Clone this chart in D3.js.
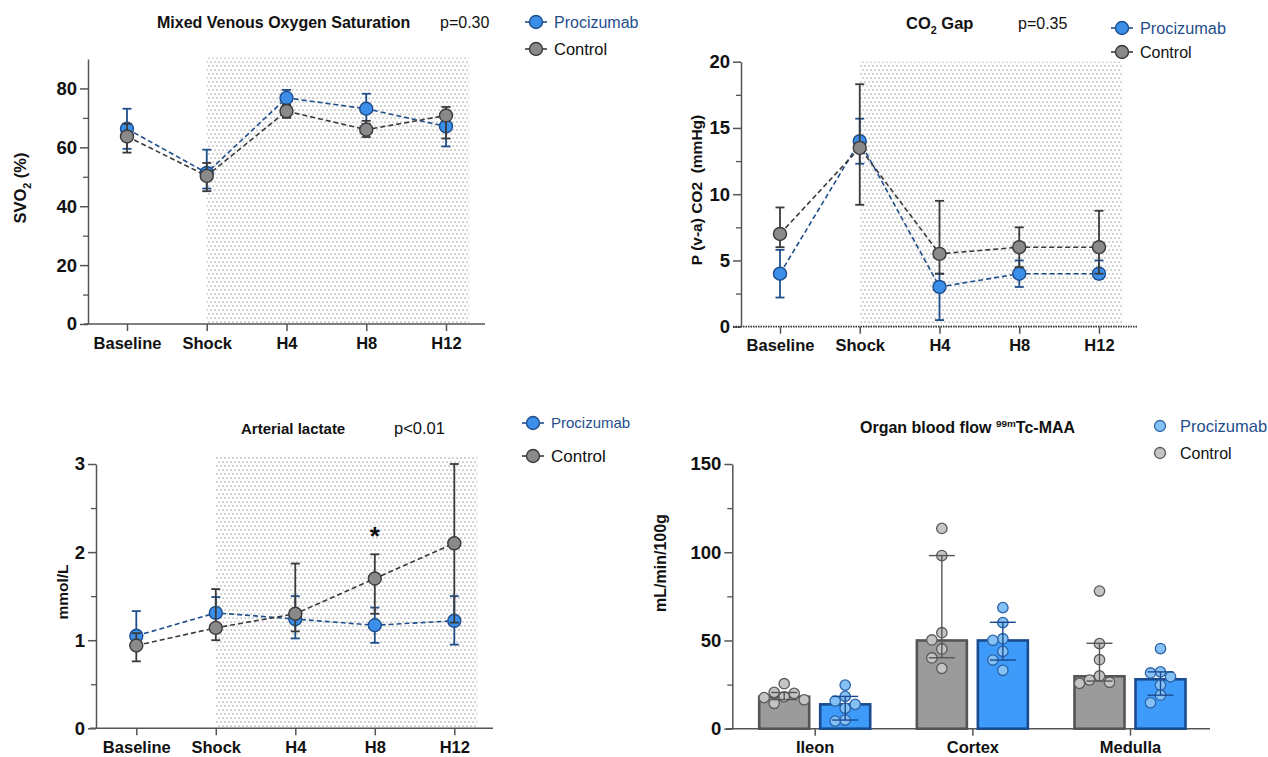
<!DOCTYPE html>
<html>
<head>
<meta charset="utf-8">
<script src="https://cdn.jsdelivr.net/npm/d3@7"></script>
<style>
  body { margin: 0; background: #fff; }
  text { font-family: "Liberation Sans", Arial, Helvetica, sans-serif; }
</style>
</head>
<body>
<script>
"use strict";

// ---- data ----
const timepoints = ["Baseline", "Shock", "H4", "H8", "H12"];

// mixed venous oxygen saturation (%)
const svoProcMean = [66.3, 51.3, 76.8, 73.1, 67.1];
const svoProcLo   = [59.5, 46.0, 74.0, 68.0, 60.3];
const svoProcHi   = [73.1, 59.2, 79.5, 78.2, 70.0];
const svoCtrlMean = [63.7, 50.3, 72.3, 66.0, 70.8];
const svoCtrlLo   = [58.2, 45.1, 70.0, 63.5, 63.0];
const svoCtrlHi   = [68.0, 54.7, 74.5, 69.0, 73.7];

// CO2 gap (mmHg)
const co2ProcMean = [4.0, 14.0, 3.0, 4.0, 4.0];
const co2ProcLo   = [2.2, 12.3, 0.5, 3.0, 3.6];
const co2ProcHi   = [5.8, 15.7, 4.0, 5.0, 5.0];
const co2CtrlMean = [7.0, 13.5, 5.5, 6.0, 6.0];
const co2CtrlLo   = [6.0, 9.2, 4.0, 4.5, 4.0];
const co2CtrlHi   = [9.0, 18.3, 9.5, 7.5, 8.75];

// arterial lactate (mmol/L)
const lacProcMean = [1.05, 1.31, 1.24, 1.17, 1.22];
const lacProcLo   = [0.90, 1.15, 1.02, 0.97, 0.95];
const lacProcHi   = [1.33, 1.49, 1.50, 1.37, 1.50];
const lacCtrlMean = [0.94, 1.14, 1.30, 1.70, 2.10];
const lacCtrlLo   = [0.76, 1.00, 1.10, 1.30, 1.20];
const lacCtrlHi   = [1.08, 1.58, 1.87, 1.975, 3.00];
const lacStarAt = "H8";
const lacStarValue = 2.3;

// organ blood flow (mL/min/100g)
const organs = ["Ileon", "Cortex", "Medulla"];
const flowCtrlBar = [18.1, 50.0, 29.7];
const flowCtrlLo  = [16.5, 40.2, 27.0];
const flowCtrlHi  = [20.5, 98.1, 48.4];
const flowProcBar = [13.8, 50.0, 28.0];
const flowProcLo  = [4.9, 38.9, 19.0];
const flowProcHi  = [18.3, 60.3, 32.2];
const flowCtrlDots = [
  [25.5, 20.6, 20.0, 18.1, 17.6, 16.4, 14.4],
  [113.5, 98.1, 54.4, 50.3, 45.2, 40.1, 34.2],
  [78.0, 48.2, 39.1, 29.9, 27.6, 26.3, 25.7]
];
const flowProcDots = [
  [24.7, 18.3, 15.7, 13.8, 11.5, 4.9, 4.3],
  [68.6, 60.1, 51.0, 50.1, 43.8, 38.9, 33.1],
  [45.4, 32.2, 31.6, 29.4, 24.7, 19.0, 14.7]
];

// ---- styles ----
const col = {
  procLine: "#1f4e8c", procFill: "#3b8fe8",
  ctrlLine: "#3a3a3a", ctrlFill: "#8a8a8a",
  procBar: "#3f9bfa", procBarEdge: "#1a4a8f",
  ctrlBar: "#9b9b9b", ctrlBarEdge: "#555555",
  procDot: "#86c1f6", procDotEdge: "#2a63a8",
  ctrlDot: "#c4c4c4", ctrlDotEdge: "#5a5a5a",
  axis: "#555555"
};

const svg = d3.select("body").append("svg")
  .attr("width", 1268)
  .attr("height", 757);

// staggered dot texture for the post-shock window
const pat = svg.append("defs").append("pattern")
  .attr("id", "dots")
  .attr("patternUnits", "userSpaceOnUse")
  .attr("width", 4).attr("height", 8);
pat.append("rect").attr("x", 0.4).attr("y", 1.4).attr("width", 1.3).attr("height", 1.3).attr("fill", "#9a9a9a");
pat.append("rect").attr("x", 2.4).attr("y", 5.4).attr("width", 1.3).attr("height", 1.3).attr("fill", "#9a9a9a");

// y axis with major labelled ticks and unlabelled minor ticks
function drawYAxis(g, y, x0, ticks, minor) {
  g.append("g")
    .attr("transform", `translate(${x0},0)`)
    .call(d3.axisLeft(y).tickValues(minor).tickSize(5).tickSizeOuter(0).tickFormat(""))
    .call(a => a.select(".domain").remove())
    .call(a => a.selectAll("line").attr("stroke", col.axis).attr("stroke-width", 1.3));
  g.append("g")
    .attr("transform", `translate(${x0},0)`)
    .call(d3.axisLeft(y).tickValues(ticks).tickSize(8).tickSizeOuter(0).tickPadding(3).tickFormat(d3.format("d")))
    .call(a => a.select(".domain").attr("stroke", col.axis).attr("stroke-width", 1.5))
    .call(a => a.selectAll("line").attr("stroke", col.axis).attr("stroke-width", 1.5))
    .call(a => a.selectAll("text")
      .attr("font-size", 18.5).attr("font-weight", "bold").attr("fill", "#111")
      .attr("font-family", '"Liberation Sans", Arial, sans-serif'));
}

function drawXAxis(g, x, y0, start, end, dotted) {
  g.append("line")
    .attr("x1", start).attr("x2", end).attr("y1", y0).attr("y2", y0)
    .attr("stroke", dotted ? "#333" : col.axis)
    .attr("stroke-width", dotted ? 1.8 : 1.5)
    .attr("stroke-dasharray", dotted ? "1.5,1" : null);
  g.append("g")
    .attr("transform", `translate(0,${y0})`)
    .call(d3.axisBottom(x).tickSize(7).tickSizeOuter(0).tickPadding(6))
    .call(a => a.select(".domain").remove())
    .call(a => a.selectAll("line").attr("stroke", col.axis).attr("stroke-width", 1.5))
    .call(a => a.selectAll("text")
      .attr("font-size", 16.5).attr("font-weight", "bold").attr("fill", "#111")
      .attr("font-family", '"Liberation Sans", Arial, sans-serif'));
}

function yLabel(g, x, y, parts, size) {
  const t = g.append("text")
    .attr("transform", `translate(${x},${y}) rotate(-90)`)
    .attr("text-anchor", "middle")
    .attr("xml:space", "preserve")
    .style("white-space", "pre")
    .attr("font-size", size).attr("font-weight", "bold").attr("fill", "#111");
  addParts(t, parts, size);
}

// parts: array of [text, "sub"|"sup"|null]
function addParts(t, parts, size) {
  parts.forEach(([s, kind]) => {
    const ts = t.append("tspan").text(s);
    if (kind === "sub") ts.attr("font-size", size * 0.65).attr("dy", size * 0.3);
    if (kind === "sup") ts.attr("font-size", size * 0.62).attr("dy", -size * 0.4);
    if (kind === "back-sub") ts.attr("dy", -size * 0.3);
    if (kind === "back-sup") ts.attr("dy", size * 0.4);
  });
}

function title(g, x, y, parts, size, pText, px, pSize) {
  const t = g.append("text").attr("x", x).attr("y", y)
    .attr("font-size", size).attr("font-weight", "bold").attr("fill", "#111");
  addParts(t, parts, size);
  if (pText) {
    g.append("text").attr("x", px).attr("y", y)
      .attr("font-size", pSize).attr("fill", "#111").text(pText);
  }
}

function lineLegend(g, x, y, label, line, fill, textColor, size) {
  g.append("line").attr("x1", x - 11).attr("x2", x + 11).attr("y1", y).attr("y2", y)
    .attr("stroke", line).attr("stroke-width", 1.6);
  g.append("circle").attr("cx", x).attr("cy", y).attr("r", 6.5)
    .attr("fill", fill).attr("stroke", line).attr("stroke-width", 1.4);
  g.append("text").attr("x", x + 18).attr("y", y).attr("dy", "0.36em")
    .attr("font-size", size).attr("fill", textColor).text(label);
}

function drawSeries(g, x, y, mean, lo, hi, line, fill) {
  const idx = d3.range(mean.length);
  g.append("path")
    .datum(idx)
    .attr("fill", "none")
    .attr("stroke", line)
    .attr("stroke-width", 1.6)
    .attr("stroke-dasharray", "5,3")
    .attr("d", d3.line().x(i => x(timepoints[i])).y(i => y(mean[i])));
  const eb = g.append("g").attr("stroke", line).attr("stroke-width", 1.8);
  idx.forEach(i => {
    const cx = x(timepoints[i]);
    eb.append("line").attr("x1", cx).attr("x2", cx).attr("y1", y(lo[i])).attr("y2", y(hi[i]));
    [lo[i], hi[i]].forEach(v => {
      eb.append("line").attr("x1", cx - 4.5).attr("x2", cx + 4.5).attr("y1", y(v)).attr("y2", y(v));
    });
  });
  g.selectAll(null).data(idx).enter().append("circle")
    .attr("cx", i => x(timepoints[i]))
    .attr("cy", i => y(mean[i]))
    .attr("r", 6.5)
    .attr("fill", fill)
    .attr("stroke", line)
    .attr("stroke-width", 1.4);
}

function linePanel(p) {
  const g = svg.append("g");
  const x = d3.scalePoint().domain(timepoints).range([p.first, p.last]);
  const y = d3.scaleLinear().domain([0, p.yMax]).range([p.yBottom, p.yTop]);

  // shaded window from shock onwards
  g.append("rect")
    .attr("x", x("Shock"))
    .attr("y", y(p.shadeTop))
    .attr("width", x("H12") + x.step() * 0.29 - x("Shock"))
    .attr("height", y(0) - y(p.shadeTop))
    .attr("fill", "url(#dots)");

  drawYAxis(g, y, p.yAxisX, p.ticks, p.minor);
  drawXAxis(g, x, y(0), p.xStart, p.xEnd, p.dotted);

  drawSeries(g, x, y, p.procMean, p.procLo, p.procHi, col.procLine, col.procFill);
  drawSeries(g, x, y, p.ctrlMean, p.ctrlLo, p.ctrlHi, col.ctrlLine, col.ctrlFill);
  return { g, x, y };
}

// ---- top left: SvO2 ----
const p1 = linePanel({
  first: 127, last: 446, yBottom: 324, yTop: 59, yMax: 90, shadeTop: 90.5,
  yAxisX: 88, xStart: 84, xEnd: 485,
  ticks: [0, 20, 40, 60, 80], minor: [10, 30, 50, 70],
  procMean: svoProcMean, procLo: svoProcLo, procHi: svoProcHi,
  ctrlMean: svoCtrlMean, ctrlLo: svoCtrlLo, ctrlHi: svoCtrlHi
});
yLabel(p1.g, 26, 188, [["SVO", null], ["2", "sub"], [" (%)", "back-sub"]], 16.5);
title(p1.g, 157, 28, [["Mixed Venous Oxygen Saturation", null]], 16, "p=0.30", 440, 16);
lineLegend(p1.g, 536, 22, "Procizumab", col.procLine, col.procFill, col.procLine, 16);
lineLegend(p1.g, 536, 49, "Control", col.ctrlLine, col.ctrlFill, "#111", 16.5);

// ---- top right: CO2 gap ----
const p2 = linePanel({
  first: 780, last: 1099, yBottom: 326.7, yTop: 61.7, yMax: 20, shadeTop: 20,
  yAxisX: 741, xStart: 733, xEnd: 1138, dotted: true,
  ticks: [0, 5, 10, 15, 20], minor: [2.5, 7.5, 12.5, 17.5],
  procMean: co2ProcMean, procLo: co2ProcLo, procHi: co2ProcHi,
  ctrlMean: co2CtrlMean, ctrlLo: co2CtrlLo, ctrlHi: co2CtrlHi
});
yLabel(p2.g, 702, 190, [["P (v-a) CO2  (mmHg)", null]], 15.5);
title(p2.g, 906, 29, [["CO", null], ["2", "sub"], [" Gap", "back-sub"]], 16.5, "p=0.35", 1018, 16);
lineLegend(p2.g, 1122, 28, "Procizumab", col.procLine, col.procFill, col.procLine, 16.3);
lineLegend(p2.g, 1122, 52, "Control", col.ctrlLine, col.ctrlFill, "#111", 16);

// ---- bottom left: lactate ----
const p3 = linePanel({
  first: 136.3, last: 454.3, yBottom: 728.3, yTop: 464, yMax: 3, shadeTop: 3.09,
  yAxisX: 96, xStart: 90, xEnd: 493,
  ticks: [0, 1, 2, 3], minor: [0.5, 1.5, 2.5],
  procMean: lacProcMean, procLo: lacProcLo, procHi: lacProcHi,
  ctrlMean: lacCtrlMean, ctrlLo: lacCtrlLo, ctrlHi: lacCtrlHi
});
yLabel(p3.g, 68, 592, [["mmol/L", null]], 15.5);
title(p3.g, 241, 434, [["Arterial lactate", null]], 15, "p<0.01", 394, 16.5);
p3.g.append("text")
  .attr("x", p3.x(lacStarAt)).attr("y", p3.y(lacStarValue))
  .attr("text-anchor", "middle").attr("dy", "0.75em")
  .attr("font-size", 26).attr("font-weight", "bold").attr("fill", "#111").text("*");
lineLegend(p3.g, 533, 423, "Procizumab", col.procLine, col.procFill, col.procLine, 15);
lineLegend(p3.g, 533, 456, "Control", col.ctrlLine, col.ctrlFill, "#111", 17);

// ---- bottom right: organ blood flow ----
(function barPanel() {
  const g = svg.append("g");
  const x = d3.scalePoint().domain(organs).range([814.7, 1130]);
  const y = d3.scaleLinear().domain([0, 150]).range([728.7, 464]);
  const barW = 50, shift = 30.5, r = 5.2;

  drawYAxis(g, y, 732.3, [0, 50, 100, 150], [25, 75, 125]);
  drawXAxis(g, x, y(0), 726, 1210, false);

  // simple beeswarm: nudge dots sideways so they do not overlap
  function swarm(values, cx) {
    const placed = [];
    const steps = [0, -1, 1, -2, 2, -3, 3];
    values.forEach(v => {
      const cy = y(v);
      for (const s of steps) {
        const px = cx + s * 10;
        if (placed.every(q => Math.hypot(q.x - px, q.y - cy) >= 2 * r - 0.5)) {
          placed.push({ x: px, y: cy });
          break;
        }
      }
    });
    return placed;
  }

  function group(bars, lo, hi, dots, side, fill, edge, dotFill, dotEdge, errColor) {
    organs.forEach((o, i) => {
      const cx = x(o) + side * shift;
      g.append("rect")
        .attr("x", cx - barW / 2).attr("y", y(bars[i]))
        .attr("width", barW).attr("height", y(0) - y(bars[i]))
        .attr("fill", fill).attr("stroke", edge).attr("stroke-width", 2.6);
      g.selectAll(null).data(swarm(dots[i], cx)).enter().append("circle")
        .attr("cx", d => d.x).attr("cy", d => d.y).attr("r", r)
        .attr("fill", dotFill).attr("stroke", dotEdge).attr("stroke-width", 1.3);
      const eb = g.append("g").attr("stroke", errColor).attr("stroke-width", 1.4);
      eb.append("line").attr("x1", cx).attr("x2", cx).attr("y1", y(lo[i])).attr("y2", y(hi[i]));
      [lo[i], hi[i]].forEach(v => {
        eb.append("line").attr("x1", cx - 13).attr("x2", cx + 13).attr("y1", y(v)).attr("y2", y(v));
      });
    });
  }

  group(flowCtrlBar, flowCtrlLo, flowCtrlHi, flowCtrlDots, -1,
    col.ctrlBar, col.ctrlBarEdge, col.ctrlDot, col.ctrlDotEdge, "#555");
  group(flowProcBar, flowProcLo, flowProcHi, flowProcDots, 1,
    col.procBar, col.procBarEdge, col.procDot, col.procDotEdge, col.procBarEdge);

  yLabel(g, 666, 563, [["mL/min/100g", null]], 16);
  title(g, 860, 433, [["Organ blood flow ", null], ["99m", "sup"], ["Tc-MAA", "back-sup"]], 16);

  g.append("circle").attr("cx", 1160).attr("cy", 426).attr("r", 5.5)
    .attr("fill", col.procDot).attr("stroke", col.procDotEdge).attr("stroke-width", 1.3);
  g.append("text").attr("x", 1180).attr("y", 426).attr("dy", "0.36em")
    .attr("font-size", 16.5).attr("fill", col.procLine).text("Procizumab");
  g.append("circle").attr("cx", 1160).attr("cy", 453).attr("r", 5.5)
    .attr("fill", col.ctrlDot).attr("stroke", col.ctrlDotEdge).attr("stroke-width", 1.3);
  g.append("text").attr("x", 1180).attr("y", 453).attr("dy", "0.36em")
    .attr("font-size", 16).attr("fill", "#111").text("Control");
})();
</script>
</body>
</html>
